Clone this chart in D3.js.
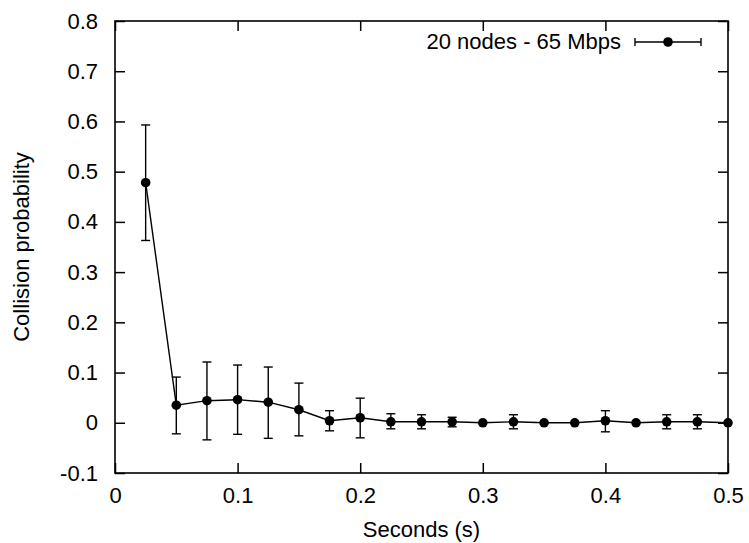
<!DOCTYPE html>
<html>
<head>
<meta charset="utf-8">
<script src="https://cdn.jsdelivr.net/npm/d3@7"></script>
<style>
  body { margin: 0; background: #fff; }
  text { font-family: "Liberation Sans", Arial, sans-serif; fill: #000; }
</style>
</head>
<body>
<div id="chart"></div>
<script>
// data
var seconds = [0.025, 0.05, 0.075, 0.1, 0.125, 0.15, 0.175, 0.2, 0.225, 0.25,
               0.275, 0.3, 0.325, 0.35, 0.375, 0.4, 0.425, 0.45, 0.475, 0.5];
var collision = [0.478, 0.035, 0.044, 0.046, 0.041, 0.026, 0.004, 0.010, 0.002, 0.002,
                 0.002, 0.000, 0.002, 0.000, 0.000, 0.004, 0.000, 0.002, 0.002, 0.000];
var lowErr = [0.363, -0.022, -0.034, -0.023, -0.031, -0.026, -0.016, -0.030, -0.012, -0.012,
              -0.008, -0.002, -0.012, -0.002, -0.002, -0.018, -0.002, -0.012, -0.012, -0.002];
var highErr = [0.593, 0.091, 0.121, 0.115, 0.111, 0.079, 0.024, 0.049, 0.018, 0.016,
               0.011, 0.002, 0.016, 0.002, 0.002, 0.024, 0.002, 0.016, 0.016, 0.002];
var xTicks = [0, 0.1, 0.2, 0.3, 0.4, 0.5];
var yTicks = [-0.1, 0, 0.1, 0.2, 0.3, 0.4, 0.5, 0.6, 0.7, 0.8];
var seriesName = "20 nodes - 65 Mbps";

var data = seconds.map((s, i) => ({x: s, y: collision[i], lo: lowErr[i], hi: highErr[i]}));

var W = 749, H = 543;
var margin = {top: 21, right: 21, bottom: 70, left: 115};
var width = W - margin.left - margin.right;
var height = H - margin.top - margin.bottom;

var svg = d3.select("#chart")
    .append("svg")
    .attr("width", W)
    .attr("height", H);

var g = svg.append("g")
    .attr("transform", "translate(" + margin.left + "," + margin.top + ")");

var x = d3.scaleLinear().domain([0, 0.5]).range([0, width]);
var y = d3.scaleLinear().domain([-0.1, 0.8]).range([height, 0]);

// plain hyphen for negatives, like the original
var fmt = d => String(+d.toFixed(1));

// ticks point inward on all four sides, gnuplot style
g.append("g")
    .attr("transform", "translate(0," + height + ")")
    .call(d3.axisBottom(x).tickValues(xTicks).tickSize(-10).tickPadding(14).tickFormat(fmt))
    .call(a => a.select(".domain").remove())
    .selectAll("text").style("font-size", "22px");

g.append("g")
    .call(d3.axisTop(x).tickValues(xTicks).tickSize(-10).tickFormat(""))
    .call(a => a.select(".domain").remove());

g.append("g")
    .call(d3.axisLeft(y).tickValues(yTicks).tickSize(-10).tickPadding(17).tickFormat(fmt))
    .call(a => a.select(".domain").remove())
    .selectAll("text").style("font-size", "22px");

g.append("g")
    .attr("transform", "translate(" + width + ",0)")
    .call(d3.axisRight(y).tickValues(yTicks).tickSize(-10).tickFormat(""))
    .call(a => a.select(".domain").remove());

g.selectAll(".tick line").attr("stroke", "#000").attr("stroke-width", 1.5);

g.append("rect")
    .attr("width", width)
    .attr("height", height)
    .attr("fill", "none")
    .attr("stroke", "#000")
    .attr("stroke-width", 1.6);

// axis titles
svg.append("text")
    .attr("x", margin.left + width / 2)
    .attr("y", 537)
    .attr("text-anchor", "middle")
    .style("font-size", "22px")
    .text("Seconds (s)");

svg.append("text")
    .attr("transform", "translate(29," + (margin.top + y(0.35)) + ") rotate(-90)")
    .attr("text-anchor", "middle")
    .style("font-size", "22px")
    .text("Collision probability");

// series
var cap = 4.5;

var bars = g.selectAll(".err")
    .data(data.filter(d => y(d.lo) - y(d.hi) > 9))
    .join("g")
    .attr("class", "err")
    .attr("stroke", "#000")
    .attr("stroke-width", 1.4);

bars.append("line")
    .attr("x1", d => x(d.x)).attr("x2", d => x(d.x))
    .attr("y1", d => y(d.lo)).attr("y2", d => y(d.hi));
bars.append("line")
    .attr("x1", d => x(d.x) - cap).attr("x2", d => x(d.x) + cap)
    .attr("y1", d => y(d.lo)).attr("y2", d => y(d.lo));
bars.append("line")
    .attr("x1", d => x(d.x) - cap).attr("x2", d => x(d.x) + cap)
    .attr("y1", d => y(d.hi)).attr("y2", d => y(d.hi));

g.append("path")
    .datum(data)
    .attr("fill", "none")
    .attr("stroke", "#000")
    .attr("stroke-width", 1.4)
    .attr("d", d3.line().x(d => x(d.x)).y(d => y(d.y)));

g.selectAll(".pt")
    .data(data)
    .join("circle")
    .attr("class", "pt")
    .attr("cx", d => x(d.x))
    .attr("cy", d => y(d.y))
    .attr("r", 4.8)
    .attr("fill", "#000");

// legend
var legend = svg.append("g").attr("transform", "translate(0,42)");

legend.append("text")
    .attr("x", 621)
    .attr("y", 6.5)
    .attr("text-anchor", "end")
    .style("font-size", "22px")
    .text(seriesName);

legend.append("line").attr("x1", 635).attr("x2", 701).attr("y1", 0).attr("y2", 0)
    .attr("stroke", "#000").attr("stroke-width", 1.4);
legend.append("line").attr("x1", 635).attr("x2", 635).attr("y1", -4).attr("y2", 4)
    .attr("stroke", "#000").attr("stroke-width", 1.4);
legend.append("line").attr("x1", 701).attr("x2", 701).attr("y1", -4).attr("y2", 4)
    .attr("stroke", "#000").attr("stroke-width", 1.4);
legend.append("circle").attr("cx", 668).attr("cy", 0).attr("r", 4.8).attr("fill", "#000");
</script>
</body>
</html>
